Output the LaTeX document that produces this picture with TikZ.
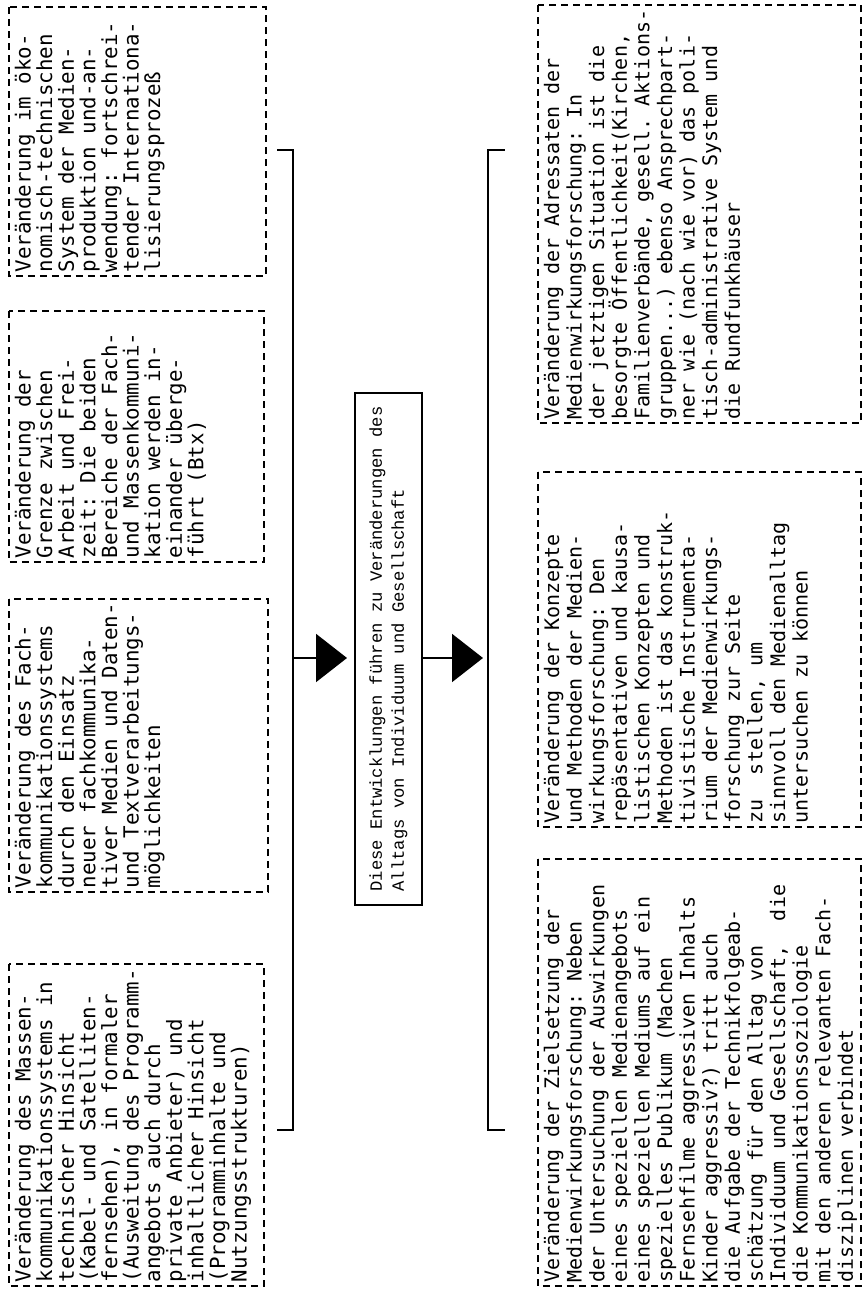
\documentclass[tikz,border=0pt]{standalone}
\usepackage{fontspec}
\usepackage{tikz}
\usetikzlibrary{arrows.meta, positioning}
\newfontfamily\kastenschrift{DejaVu Sans Mono}
\newfontfamily\mittelschrift{Liberation Mono}
\tikzstyle{kasten} = [draw, line width = 0.8pt, dash pattern = on 3.5pt off 2.5pt, anchor = north west, inner xsep = 2pt, inner ysep = 3pt]
\tikzstyle{links} = [kasten, font = {\kastenschrift\fontsize{10.4}{10.8}\selectfont\lineskiplimit-100pt\frenchspacing}]
\tikzstyle{rechts} = [kasten, font = {\kastenschrift\fontsize{10}{11.3}\selectfont\lineskiplimit-100pt\frenchspacing}]
\tikzstyle{mitte} = [draw, line width = 1pt, align = left, minimum width = 256pt, minimum height = 33.5pt, font = {\mittelschrift\fontsize{8.6}{11}\selectfont}]
\tikzstyle{klammer} = [line width = 1.4pt]
\tikzstyle{pfeil} = [line width = 1pt, -{Triangle[length = 15.5pt, width = 24pt]}]
\begin{document}
\begin{tikzpicture} [x = 0.5pt, y = 0.5pt, rotate = 90, transform shape]
\useasboundingbox (0,0) rectangle (1291,-864);

\node (massen) [links] at (4,-8) {\parbox[c][121.5pt][t]{157pt}{Veränderung des Massen-\\
kommunikationssystems in\\
technischer Hinsicht\\
(Kabel- und Satelliten-\\
fernsehen), in formaler\\
(Ausweitung des Programm-\\
angebots auch durch\\
private Anbieter) und\\
inhaltlicher Hinsicht\\
(Programminhalte und\\
Nutzungsstrukturen)}};
\node (fach) [links] at (398,-8) {\parbox[c][123.5pt][t]{142.5pt}{Veränderung des Fach-\\
kommunikationssystems\\
durch den Einsatz\\
neuer fachkommunika-\\
tiver Medien und Daten-\\
und Textverarbeitungs-\\
möglichkeiten}};
\node (arbeit) [links] at (728,-8) {\parbox[c][121.5pt][t]{121.5pt}{Veränderung der\\
Grenze zwischen\\
Arbeit und Frei-\\
zeit: Die beiden\\
Bereiche der Fach-\\
und Massenkommuni-\\
kation werden in-\\
einander überge-\\
führt (Btx)}};
\node (oekonomie) [links] at (1014,-8) {\parbox[c][122.5pt][t]{130.5pt}{Veränderung im öko-\\
nomisch-technischen\\
System der Medien-\\
produktion und-an-\\
wendung: fortschrei-\\
tender Internationa-\\
lisierungsprozeß}};

\node (zentral) [mitte] at (642,-388.5) {Diese Entwicklungen führen zu Veränderungen des\\ Alltags von Individuum und Gesellschaft};

\node (ziel) [rechts] at (4,-537) {\parbox[c][155.5pt][t]{209.5pt}{Veränderung der Zielsetzung der\\
Medienwirkungsforschung: Neben\\
der Untersuchung der Auswirkungen\\
eines speziellen Medienangebots\\
eines speziellen Mediums auf ein\\
spezielles Publikum (Machen\\
Fernsehfilme aggressiven Inhalts\\
Kinder aggressiv?) tritt auch\\
die Aufgabe der Technikfolgeab-\\
schätzung für den Alltag von\\
Individuum und Gesellschaft,\ \ die\\
die Kommunikationssoziologie\\
mit den anderen relevanten Fach-\\
disziplinen verbindet}};
\node (konzepte) [rechts] at (463,-537) {\parbox[c][155.5pt][t]{173.5pt}{Veränderung der Konzepte\\
und Methoden der Medien-\\
wirkungsforschung: Den\\
repäsentativen und kausa-\\
listischen Konzepten und\\
Methoden ist das konstruk-\\
tivistische Instrumenta-\\
rium der Medienwirkungs-\\
forschung zur Seite\\
zu\ \ stellen, um\\
sinnvoll den Medienalltag\\
untersuchen zu können}};
\node (adressaten) [rechts] at (867,-537) {\parbox[c][155.5pt][t]{205pt}{Veränderung der Adressaten der\\
Medienwirkungsforschung: In\\
der jetztigen Situation ist die\\
besorgte Öffentlichkeit(Kirchen,\\
Familienverbände, gesell. Aktions-\\
gruppen...) ebenso Ansprechpart-\\
ner wie (nach wie vor) das poli-\\
tisch-administrative System und\\
die Rundfunkhäuser}};

\coordinate (oben) at (633,-293);
\coordinate (unten) at (633,-488);
\draw[klammer] (161,-277) |- (1141,-293) -- (1141,-277);
\draw[klammer] (161,-505) |- (1141,-488) -- (1141,-505);

\draw[pfeil, shorten > = 3.5pt] (oben) -- (oben |- zentral.north);
\draw[pfeil, shorten > = 2.5pt] (oben |- zentral.south) -- (unten);
\end{tikzpicture}
\end{document}
